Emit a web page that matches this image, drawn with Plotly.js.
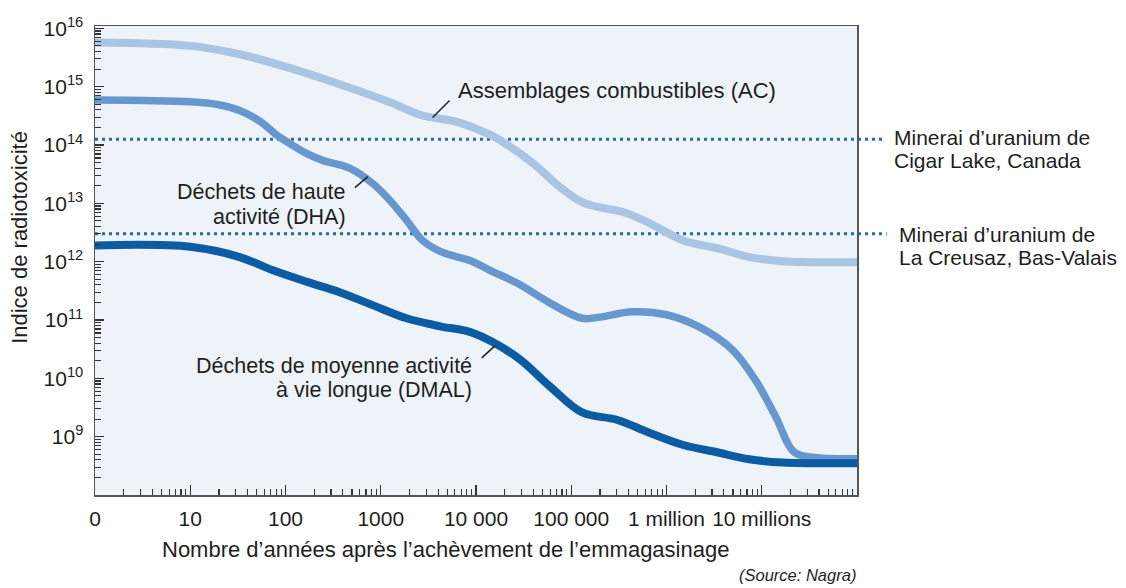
<!DOCTYPE html>
<html>
<head>
<meta charset="utf-8">
<script src="https://cdn.plot.ly/plotly-3.0.1.min.js"></script>
<style>html,body{margin:0;padding:0;background:#fff;}#chart{width:1126px;height:588px;}</style>
</head>
<body>
<div id="chart"></div>
<script>
// Assemblages combustibles (AC)
const acYears  = [1, 10, 33, 110, 370, 1250, 2750, 6300, 14000, 18000, 40000, 76000, 130000, 200000, 350000, 660000, 1.5e6, 3.4e6, 7.4e6, 1.65e7, 1e8];
const acValues = [5.7e15, 5.0e15, 3.6e15, 2.1e15, 1.1e15, 5.4e14, 3.2e14, 2.5e14, 1.5e14, 1.2e14, 4.8e13, 1.9e13, 1.05e13, 8.5e12, 7.1e12, 4.6e12, 2.3e12, 1.7e12, 1.2e12, 1.02e12, 9.8e11];
// Déchets de haute activité (DHA)
const dhaYears  = [1, 10, 20, 33, 55, 80, 110, 168, 250, 470, 820, 1250, 1870, 2750, 4200, 9300, 14000, 27000, 60000, 130000, 200000, 440000, 1e6, 2.2e6, 4.9e6, 8.6e6, 1.4e7, 2.2e7, 3.6e7, 1e8];
const dhaValues = [5.9e14, 5.5e14, 4.9e14, 3.9e14, 2.5e14, 1.5e14, 1.07e14, 7.1e13, 5.4e13, 4.0e13, 2.2e13, 1.12e13, 5.1e12, 2.3e12, 1.5e12, 1.0e12, 7.1e11, 4.3e11, 1.95e11, 1.07e11, 1.12e11, 1.38e11, 1.23e11, 7.6e10, 3.1e10, 9.3e9, 2.2e9, 5.4e8, 4.4e8, 4.2e8];
// Déchets de moyenne activité à vie longue (DMAL)
const dmalYears  = [1, 10, 33, 74, 168, 370, 820, 1870, 4200, 9300, 27000, 60000, 130000, 300000, 660000, 1.5e6, 3.4e6, 7.4e6, 1.65e7, 1e8];
const dmalValues = [1.9e12, 1.8e12, 1.2e12, 7.1e11, 4.5e11, 3.0e11, 1.8e11, 1.07e11, 7.8e10, 6.0e10, 2.3e10, 7.2e9, 2.6e9, 1.95e9, 1.17e9, 7.2e8, 5.4e8, 4.1e8, 3.6e8, 3.5e8];
// Reference ore levels
const oreLabels = [["Minerai d’uranium de", "Cigar Lake, Canada"], ["Minerai d’uranium de", "La Creusaz, Bas-Valais"]];
const oreValues = [1.25e14, 3.0e12];
// Axis ticks
const xTickVals = [1, 10, 100, 1000, 10000, 100000, 1e6, 1e7];
const xTickText = ["0", "10", "100", "1000", "10 000", "100 000", "1 million", "10 millions"];
const yTickVals = [1e9, 1e10, 1e11, 1e12, 1e13, 1e14, 1e15, 1e16];
const yTickText = ["10<sup>9</sup>", "10<sup>10</sup>", "10<sup>11</sup>", "10<sup>12</sup>", "10<sup>13</sup>", "10<sup>14</sup>", "10<sup>15</sup>", "10<sup>16</sup>"];

const FONT = "Liberation Sans, Arial, Helvetica, sans-serif";
const TXT = "#1e1e1e";

const lineTrace = (x, y, color, w) => ({
  x: x, y: y, type: "scatter", mode: "lines",
  line: {color: color, width: w, shape: "spline", smoothing: 1},
  hoverinfo: "skip", showlegend: false
});

const data = [
  lineTrace(acYears, acValues, "#a9c5e3", 8),
  lineTrace(dhaYears, dhaValues, "#6797cf", 7.5),
  lineTrace(dmalYears, dmalValues, "#0b5ca3", 8)
];

const oreShapes = oreValues.map((v, i) => ({
  type: "line", xref: "paper", yref: "y", x0: 0, x1: i === 0 ? 1.034 : 1.039, y0: v, y1: v,
  layer: "below", line: {color: "#2a6aaa", width: 3, dash: "3px,4px"}
}));

// leader lines: anchored at the label-side end, drawn with pixel offsets toward the curve
const leader = (x, y, dx, dy) => ({
  type: "line", xref: "x", yref: "y", xsizemode: "pixel", ysizemode: "pixel",
  xanchor: x, yanchor: y, x0: 0, y0: 0, x1: dx, y1: dy,
  line: {color: "#222", width: 1.5}
});

const shapes = oreShapes.concat([
  leader(3500, 2.95e14, 17, 17),
  leader(535, 1.86e13, 13, 11),
  leader(11500, 2.24e10, 13, 12)
]);

const txt = (text, x, y, xanchor, size, extra) => Object.assign({
  text: text, xref: "paper", yref: "paper", x: x, y: y, xanchor: xanchor, yanchor: "middle",
  showarrow: false, borderpad: 0, font: {family: FONT, size: size || 21.5, color: TXT}
}, extra || {});

const annotations = [
  txt("Assemblages combustibles (AC)", 0.475, 0.8635, "left", 22),
  txt("Déchets de haute", 0.3307, 0.646, "right"),
  txt("activité (DHA)", 0.3307, 0.5927, "right"),
  txt("Déchets de moyenne activité", 0.496, 0.2750, "right"),
  txt("à vie longue (DMAL)", 0.496, 0.2239, "right"),
  txt(oreLabels[0][0], 1.0472, 0.7633, "left", 21),
  txt(oreLabels[0][1], 1.0472, 0.7122, "left", 21),
  txt(oreLabels[1][0], 1.0538, 0.5565, "left", 21),
  txt(oreLabels[1][1], 1.0538, 0.5054, "left", 21),
  txt("Nombre d’années après l’achèvement de l’emmagasinage", 0.4606, -0.117, "center", 22),
  txt("<i>(Source: Nagra)</i>", 1.0, -0.171, "right", 16.5),
  txt("Indice de radiotoxicité", -0.1, 0.55, "center", 22, {textangle: -90})
];

const layout = {
  width: 1126, height: 588,
  margin: {l: 95, r: 269, t: 26, b: 93, pad: 0},
  paper_bgcolor: "#ffffff",
  plot_bgcolor: "#eef3f9",
  font: {family: FONT, size: 21, color: TXT},
  showlegend: false,
  xaxis: {
    type: "log", range: [0, 8], tickmode: "array", tickvals: xTickVals, ticktext: xTickText,
    ticks: "inside", ticklen: 10, tickwidth: 1.4, tickcolor: "#333",
    minor: {tickmode: "linear", dtick: "D1", ticks: "inside", ticklen: 6, tickwidth: 1.2, tickcolor: "#333", showgrid: false},
    showgrid: false, zeroline: false, showline: true, mirror: true, linecolor: "#555", linewidth: 1.5,
    tickfont: {family: FONT, size: 21, color: TXT}, ticklabelstandoff: 4, fixedrange: true
  },
  yaxis: {
    type: "log", range: [8.0, 16.04], tickmode: "array", tickvals: yTickVals, ticktext: yTickText,
    ticks: "inside", ticklen: 9, tickwidth: 1.4, tickcolor: "#333",
    minor: {tickmode: "linear", dtick: "D1", ticks: "inside", ticklen: 6, tickwidth: 1.2, tickcolor: "#333", showgrid: false},
    showgrid: false, zeroline: false, showline: true, mirror: true, linecolor: "#555", linewidth: 1.5,
    tickfont: {family: FONT, size: 21, color: TXT}, ticklabelstandoff: 6, fixedrange: true
  },
  shapes: shapes,
  annotations: annotations
};

Plotly.newPlot("chart", data, layout, {displayModeBar: false, staticPlot: true});
</script>
</body>
</html>
